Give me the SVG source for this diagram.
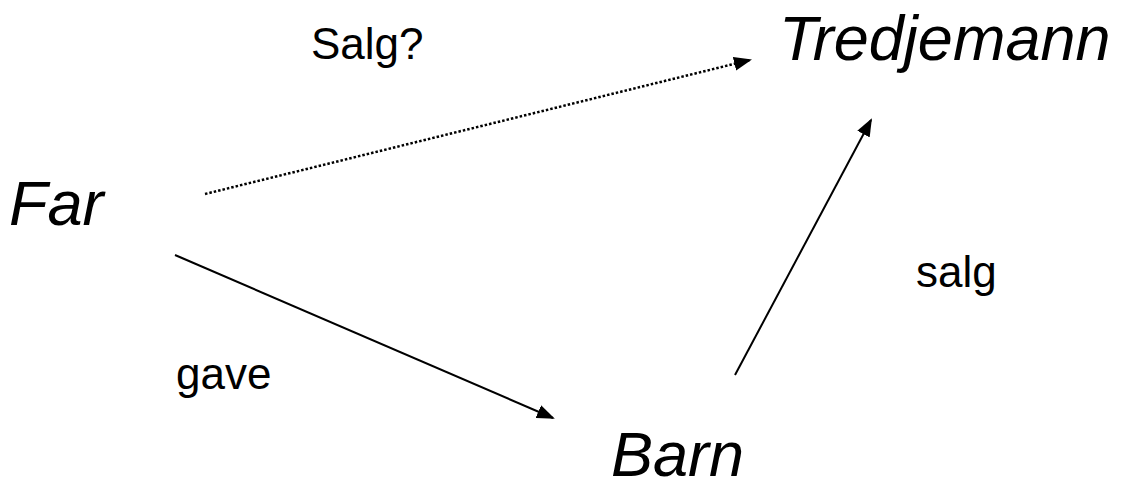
<svg xmlns="http://www.w3.org/2000/svg" width="1124" height="485" viewBox="0 0 1124 485">
<style>
.node{font-family:"Liberation Sans",Arial,sans-serif;font-style:italic;font-size:63px;fill:#000}
.lbl{font-family:"Liberation Sans",Arial,sans-serif;font-size:44px;fill:#000}
.edge{stroke:#000;stroke-width:2;fill:none}
.dot{stroke-width:2.5;stroke-dasharray:2.5 2}
</style>
<defs>
<marker id="ah" markerUnits="userSpaceOnUse" markerWidth="18" markerHeight="14" refX="16" refY="7" orient="auto" viewBox="0 0 18 14">
<path d="M0,0 L18,7 L0,14 z" fill="#000"/>
</marker>
</defs>
<rect width="1124" height="485" fill="#fff"/>
<g id="connectors">
<line class="edge dot" x1="205" y1="194" x2="750" y2="60" marker-end="url(#ah)"/>
<line class="edge" x1="175" y1="255" x2="553" y2="418" marker-end="url(#ah)"/>
<line class="edge" x1="735" y1="375" x2="871" y2="120" marker-end="url(#ah)"/>
</g>
<g id="far"><text class="node" x="9" y="225">Far</text></g>
<g id="tredjemann"><text class="node" x="779" y="60">Tredjemann</text></g>
<g id="barn"><text class="node" x="611" y="476">Barn</text></g>
<g id="label-salg-q"><text class="lbl" x="311" y="59">Salg?</text></g>
<g id="label-gave"><text class="lbl" x="176" y="389">gave</text></g>
<g id="label-salg"><text class="lbl" x="916" y="287">salg</text></g>
</svg>
